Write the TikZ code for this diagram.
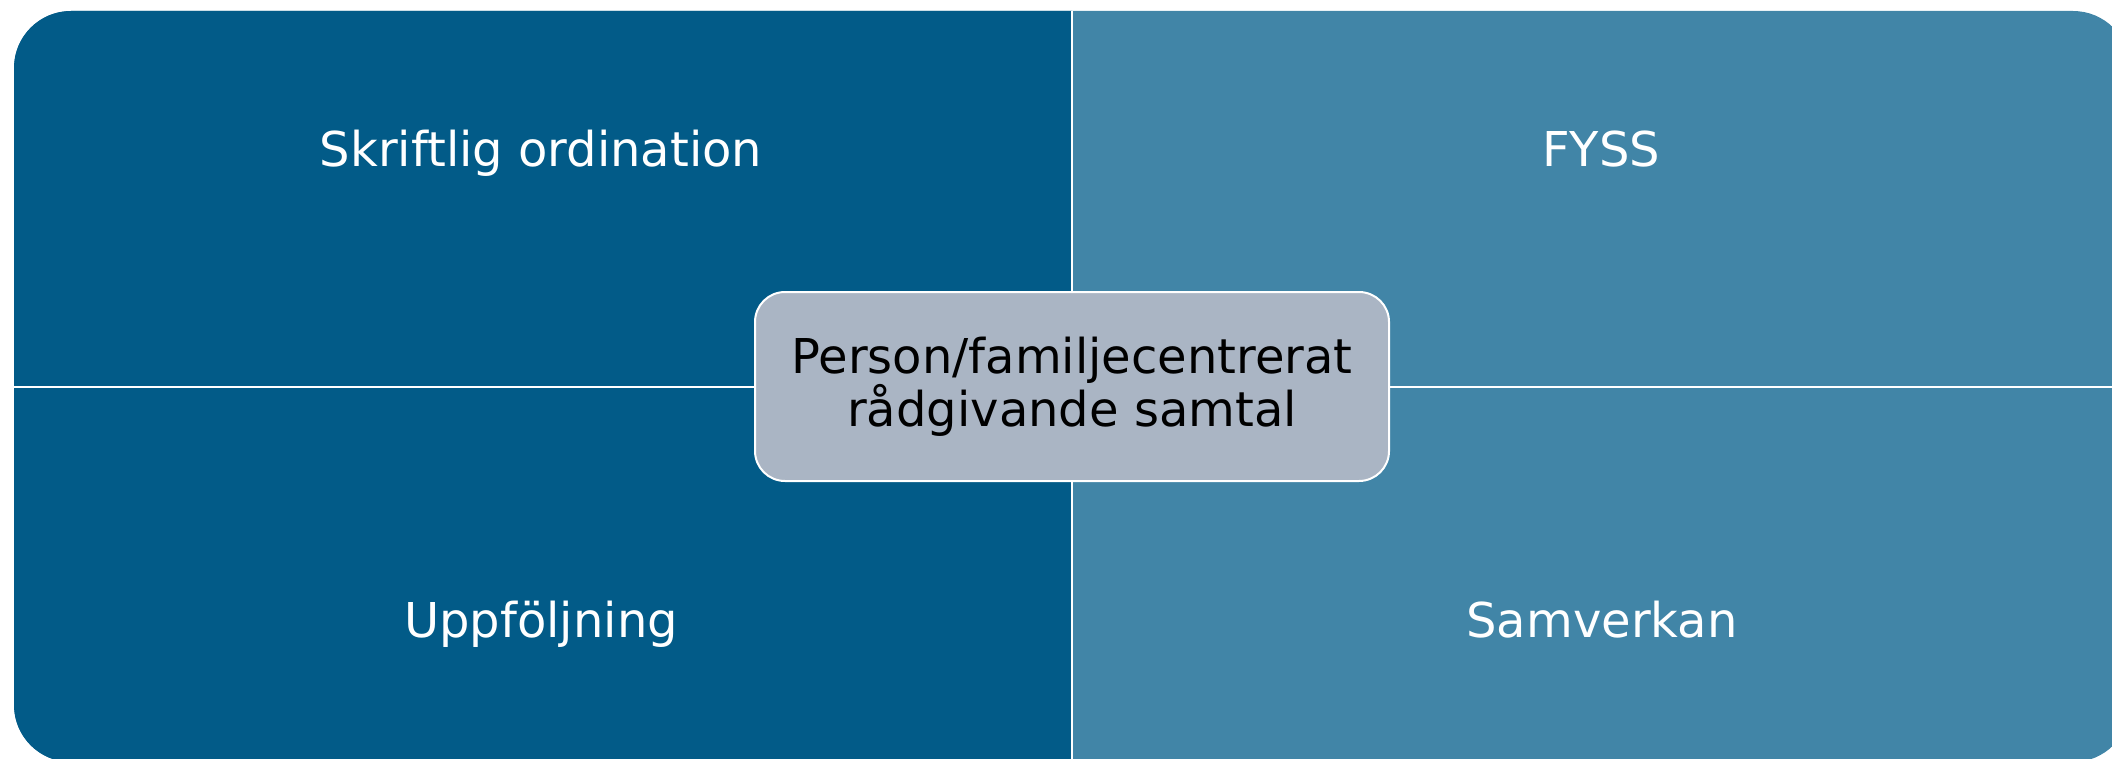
\documentclass[tikz,border=0pt]{standalone}
\usepackage{fontspec}
\setmainfont{DejaVu Sans}
\definecolor{darkq}{HTML}{025B88}
\definecolor{lightq}{HTML}{4185A7}
\definecolor{centerfill}{HTML}{AAB5C4}
\begin{document}
\begin{tikzpicture}[x=0.5pt,y=-0.5pt,
  lbl/.style={text=white,font=\fontsize{24}{26.5}\selectfont,anchor=base,inner sep=0pt},
  divider/.style={draw=white,line width=1pt},
  centerbox/.style={draw=white,line width=1pt,fill=centerfill,rounded corners=15pt,
    minimum width=317pt,minimum height=94.5pt,inner sep=0pt,align=center,
    text=black,font=\fontsize{24}{26.5}\selectfont}]
\useasboundingbox (0,0) rectangle (2112,759);
\clip (0,0) rectangle (2112,759);
\fill[lightq, rounded corners=28.5pt] (14,11) rectangle (2130,762);
\begin{scope}
  \clip (0,0) rectangle (1072,770);
  \fill[darkq, rounded corners=28.5pt] (14,11) rectangle (2130,762);
\end{scope}
\coordinate (vtop) at (1072,11);
\coordinate (vbot) at (1072,762);
\coordinate (hleft) at (14,386.5);
\coordinate (hright) at (2130,386.5);
\draw[divider] (vtop) -- (vbot);
\draw[divider] (hleft) -- (hright);
\node[centerbox] (c) at (1072,386.5) {Person/familjecentrerat\\rådgivande samtal};
\node[lbl] (tl) at (541,167) {Skriftlig ordination};
\node[lbl] (tr) at (1601,167) {FYSS};
\node[lbl] (bl) at (541,637) {Uppföljning};
\node[lbl] (br) at (1602,637) {Samverkan};
\end{tikzpicture}
\end{document}
